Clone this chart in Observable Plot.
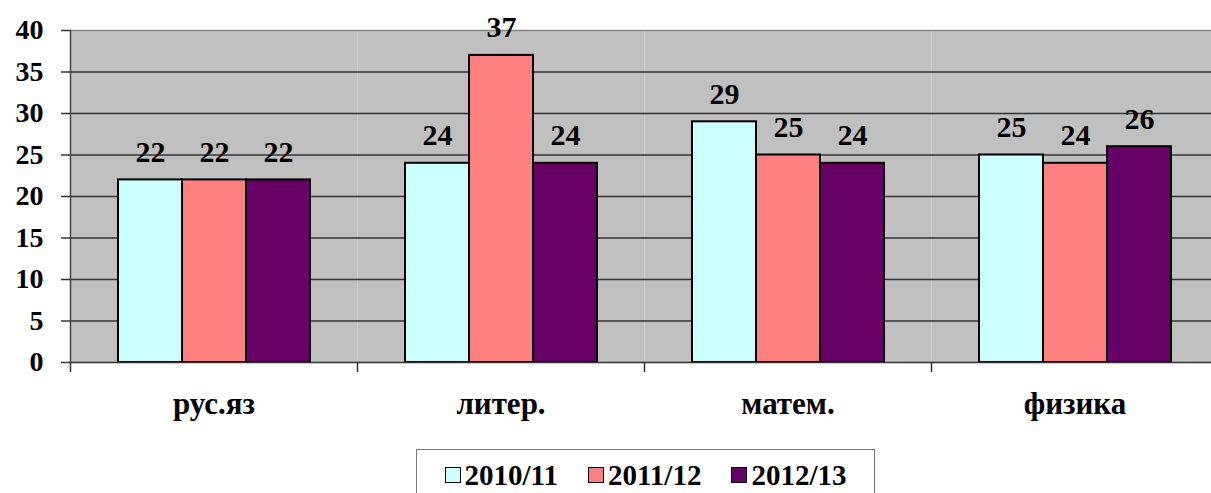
<!DOCTYPE html>
<html>
<head>
<meta charset="utf-8">
<script src="https://cdn.jsdelivr.net/npm/d3@7"></script>
<script src="https://cdn.jsdelivr.net/npm/@observablehq/plot@0.6"></script>
</head>
<body style="margin:0;background:#fff;font-family:'Liberation Serif'">
<div id="chart"></div>
<script>
const categories = ["рус.яз", "литер.", "матем.", "физика"];
const series = ["2010/11", "2011/12", "2012/13"];
const values2010 = [22, 24, 29, 25];
const values2011 = [22, 37, 25, 24];
const values2012 = [22, 24, 24, 26];
const colors = ["#ccffff", "#ff8080", "#660066"];
const yTicks = [0, 5, 10, 15, 20, 25, 30, 35, 40];

const allValues = [values2010, values2011, values2012];
const data = [];
categories.forEach((c, i) => series.forEach((s, j) => data.push({cat: c, series: s, value: allValues[j][i]})));

const chart = Plot.plot({
  width: 1211,
  height: 445,
  marginLeft: 69,
  marginRight: -8,
  marginTop: 30,
  marginBottom: 83,
  style: {fontFamily: "Liberation Serif", color: "#000", display: "block", overflow: "hidden"},
  fx: {domain: categories, padding: 0, label: null},
  x: {domain: series, paddingInner: 0, paddingOuter: 0.742, axis: null},
  y: {domain: [0, 40], axis: null},
  color: {domain: series, range: colors},
  marks: [
    Plot.frame({fill: "#c0c0c0", stroke: null}),
    Plot.gridY(yTicks.filter(t => t > 0 && t < 40), {stroke: "#333", strokeOpacity: 1, strokeWidth: 1.5}),
    Plot.ruleY([40], {stroke: "#888", strokeWidth: 1.5}),
    Plot.barY(data, {fx: "cat", x: "series", y: "value", fill: "series", stroke: "#000", strokeWidth: 2}),
    Plot.ruleY([0], {stroke: "#333", strokeWidth: 1.5}),
    Plot.frame({anchor: "left", stroke: "#444", strokeWidth: 1.5, facetAnchor: "left"}),
    Plot.vector(categories, {
      fx: d => d, frameAnchor: "bottom-left", length: 9, rotate: 180, anchor: "start",
      stroke: "#333", strokeWidth: 1.5,
      shape: {draw(context, l) { context.moveTo(0, 0); context.lineTo(0, -l); }}
    }),
    Plot.axisY({ticks: yTicks, tickSize: 9, tickPadding: 18, fontSize: 28, fontWeight: "bold", stroke: "#333", strokeWidth: 1.5, label: null}),
    Plot.axisFx({anchor: "bottom", tickSize: 0, tickPadding: 29, fontSize: 31, fontWeight: "bold", label: null}),
    Plot.text(data, {fx: "cat", x: "series", y: "value", text: d => String(d.value), lineAnchor: "bottom", dy: -18, fontSize: 30, fontWeight: "bold", fill: "#000"})
  ]
});
chart.querySelectorAll("text, g").forEach(t => { t.setAttribute("font-family", "Liberation Serif"); t.style.fontFamily = "'Liberation Serif'"; });
document.getElementById("chart").appendChild(chart);

const legend = document.createElement("div");
Object.assign(legend.style, {
  fontFamily: "'Liberation Serif'", fontWeight: "bold", fontSize: "29px", color: "#000",
  marginLeft: "416px", marginTop: "4px", width: "459px", height: "60px", boxSizing: "border-box",
  border: "1.5px solid #777", borderBottom: "none", display: "flex", justifyContent: "center",
  gap: "30px", paddingTop: "8px"
});
series.forEach((s, i) => {
  const item = document.createElement("div");
  Object.assign(item.style, {display: "flex", alignItems: "center", gap: "4px", height: "34px"});
  const sw = document.createElement("div");
  Object.assign(sw.style, {width: "14px", height: "14px", border: "1.5px solid #000", background: colors[i]});
  const label = document.createElement("span");
  label.textContent = s;
  item.appendChild(sw);
  item.appendChild(label);
  legend.appendChild(item);
});
document.body.appendChild(legend);
</script>
</body>
</html>
